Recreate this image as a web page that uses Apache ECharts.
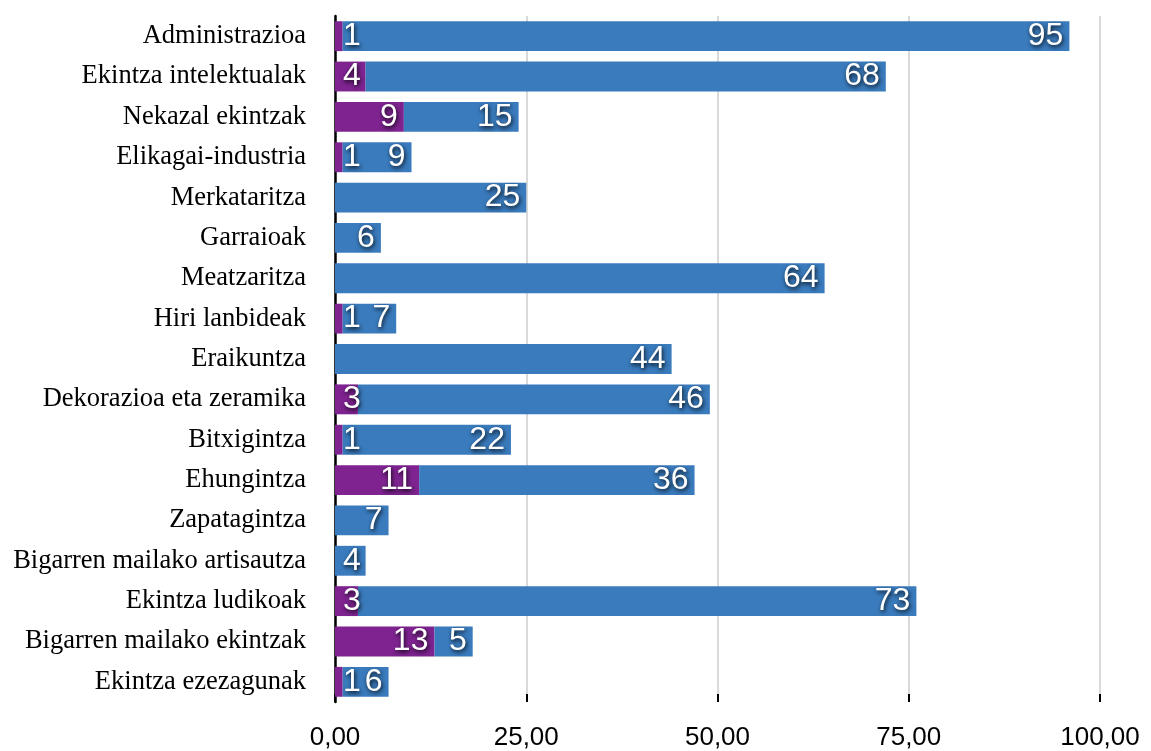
<!DOCTYPE html>
<html>
<head>
<meta charset="utf-8">
<script src="https://cdn.jsdelivr.net/npm/echarts@6/dist/echarts.min.js"></script>
<style>
html,body{margin:0;padding:0;background:#fff;}
#main{width:1151px;height:751px;}
</style>
</head>
<body>
<div id="main"></div>
<script>
var categories = ["Administrazioa","Ekintza intelektualak","Nekazal ekintzak","Elikagai-industria","Merkataritza","Garraioak","Meatzaritza","Hiri lanbideak","Eraikuntza","Dekorazioa eta zeramika","Bitxigintza","Ehungintza","Zapatagintza","Bigarren mailako artisautza","Ekintza ludikoak","Bigarren mailako ekintzak","Ekintza ezezagunak"];
var purpleValues = [1,4,9,1,null,null,null,1,null,3,1,11,null,null,3,13,1];
var blueValues = [95,68,15,9,25,6,64,7,44,46,22,36,7,4,73,5,6];
var xTicks = {min:0, max:100, interval:25};

function labelFor(v){
  if (v == null) return {show:false};
  if (v <= 4) return {position:'insideLeft', distance:8};
  return {position:'insideRight', distance:6};
}
function buildData(arr){
  return arr.map(function(v){ return {value:v, label:labelFor(v)}; });
}
var baseLabel = {
  show:true,
  color:'#ffffff',
  fontFamily:'Liberation Sans, Arial, Helvetica, sans-serif',
  fontSize:32,
  textShadowColor:'rgba(0,0,0,0.9)',
  textShadowBlur:4,
  textShadowOffsetX:1,
  textShadowOffsetY:2,
  formatter:function(p){ return p.value; }
};
var chart = echarts.init(document.getElementById('main'));
chart.setOption({
  animation:false,
  backgroundColor:'#ffffff',
  grid:{left:335, right:51, top:16, bottom:49, containLabel:false, outerBoundsMode:'none'},
  xAxis:{
    type:'value', min:xTicks.min, max:xTicks.max, interval:xTicks.interval,
    axisLine:{show:false},
    axisTick:{show:true, inside:true, length:8, lineStyle:{color:'#000', width:2}},
    splitLine:{show:true, lineStyle:{color:'#cccccc', width:1.5}},
    axisLabel:{
      margin:23, color:'#000', fontSize:26,
      fontFamily:'Liberation Sans, Arial, Helvetica, sans-serif',
      formatter:function(v){ return v.toFixed(2).replace('.', ','); }
    }
  },
  yAxis:{
    type:'category', data:categories, inverse:true,
    axisLine:{show:true, lineStyle:{color:'#000', width:2.5}},
    axisTick:{show:false},
    axisLabel:{margin:29, color:'#000', fontSize:26.5,
      fontFamily:'Liberation Serif, Times New Roman, serif'}
  },
  series:[
    {type:'bar', stack:'s', data:buildData(purpleValues), barCategoryGap:'26%',
      itemStyle:{color:'#7E2390'}, label:baseLabel, z:2},
    {type:'bar', stack:'s', data:buildData(blueValues), barCategoryGap:'26%',
      itemStyle:{color:'#3A7BBD'}, label:baseLabel, z:2}
  ]
});
</script>
</body>
</html>
